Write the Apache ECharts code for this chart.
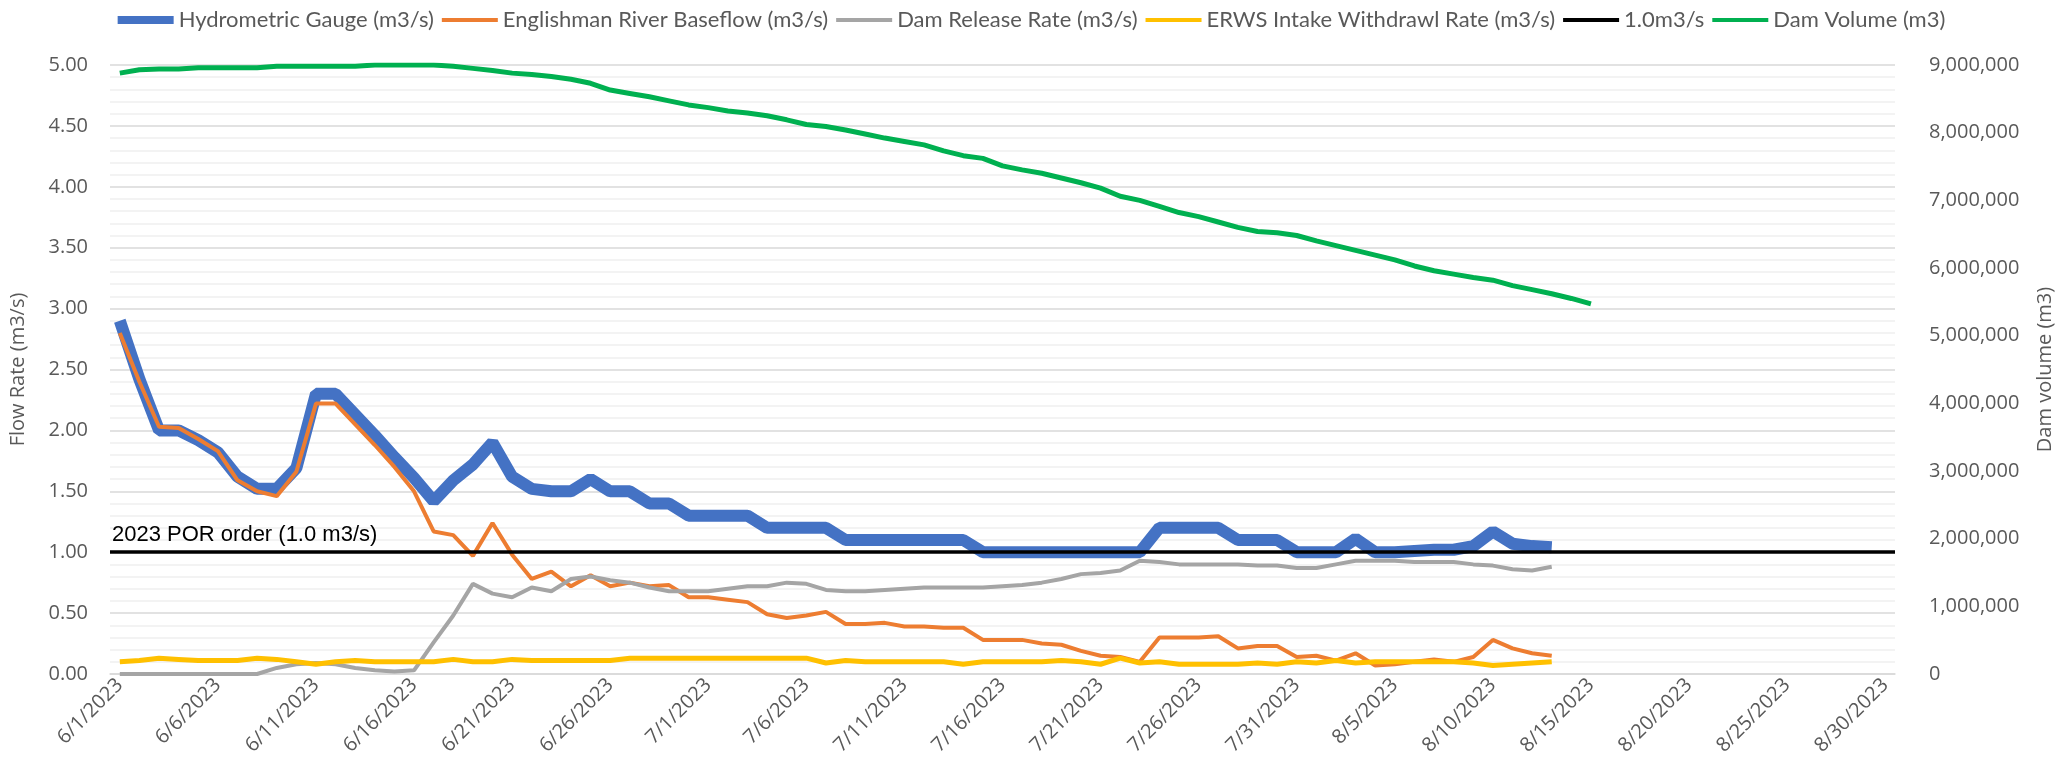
<!DOCTYPE html>
<html><head><meta charset="utf-8">
<script src="https://cdn.jsdelivr.net/npm/echarts@6/dist/echarts.min.js"></script>
<style>html,body{margin:0;padding:0;background:#fff}#c{width:2063px;height:778px}</style>
</head><body><div id="c"></div>
<script>
// categories: daily dates 6/1/2023 .. 8/30/2023
const monthSpans = [[6, 30], [7, 31], [8, 30]];
const dates = [];
for (const [m, n] of monthSpans) for (let d = 1; d <= n; d++) dates.push(m + '/' + d + '/2023');

// Hydrometric Gauge (m3/s), 6/1 .. 8/13
const gauge = [2.90, 2.42, 2.00, 2.00, 1.92, 1.82, 1.62, 1.52, 1.52, 1.69,
  2.30, 2.30, 2.13, 1.96, 1.78, 1.61, 1.42, 1.59, 1.72, 1.90,
  1.62, 1.52, 1.50, 1.50, 1.60, 1.50, 1.50, 1.40, 1.40, 1.30,
  1.30, 1.30, 1.30, 1.20, 1.20, 1.20, 1.20, 1.10, 1.10, 1.10,
  1.10, 1.10, 1.10, 1.10, 1.00, 1.00, 1.00, 1.00, 1.00, 1.00,
  1.00, 1.00, 1.00, 1.20, 1.20, 1.20, 1.20, 1.10, 1.10, 1.10,
  1.00, 1.00, 1.00, 1.11, 1.00, 1.00, 1.01, 1.02, 1.02, 1.05,
  1.17, 1.07, 1.05, 1.04];
// Englishman River Baseflow (m3/s)
const baseflow = [2.80, 2.40, 2.03, 2.02, 1.93, 1.83, 1.59, 1.50, 1.46, 1.66,
  2.22, 2.22, 2.05, 1.88, 1.70, 1.50, 1.17, 1.14, 0.97, 1.24,
  0.98, 0.78, 0.84, 0.72, 0.81, 0.72, 0.75, 0.72, 0.73, 0.63,
  0.63, 0.61, 0.59, 0.49, 0.46, 0.48, 0.51, 0.41, 0.41, 0.42,
  0.39, 0.39, 0.38, 0.38, 0.28, 0.28, 0.28, 0.25, 0.24, 0.19,
  0.15, 0.14, 0.10, 0.30, 0.30, 0.30, 0.31, 0.21, 0.23, 0.23,
  0.14, 0.15, 0.11, 0.17, 0.07, 0.08, 0.10, 0.12, 0.10, 0.14,
  0.28, 0.21, 0.17, 0.15];
// Dam Release Rate (m3/s)
const release = [0.00, 0.00, 0.00, 0.00, 0.00, 0.00, 0.00, 0.00, 0.05, 0.08,
  0.09, 0.08, 0.05, 0.03, 0.02, 0.03, 0.26, 0.48, 0.74, 0.66,
  0.63, 0.71, 0.68, 0.78, 0.80, 0.77, 0.75, 0.71, 0.68, 0.68,
  0.68, 0.70, 0.72, 0.72, 0.75, 0.74, 0.69, 0.68, 0.68, 0.69,
  0.70, 0.71, 0.71, 0.71, 0.71, 0.72, 0.73, 0.75, 0.78, 0.82,
  0.83, 0.85, 0.93, 0.92, 0.90, 0.90, 0.90, 0.90, 0.89, 0.89,
  0.87, 0.87, 0.90, 0.93, 0.93, 0.93, 0.92, 0.92, 0.92, 0.90,
  0.89, 0.86, 0.85, 0.88];
// ERWS Intake Withdrawl Rate (m3/s)
const intake = [0.10, 0.11, 0.13, 0.12, 0.11, 0.11, 0.11, 0.13, 0.12, 0.10,
  0.08, 0.10, 0.11, 0.10, 0.10, 0.10, 0.10, 0.12, 0.10, 0.10,
  0.12, 0.11, 0.11, 0.11, 0.11, 0.11, 0.13, 0.13, 0.13, 0.13,
  0.13, 0.13, 0.13, 0.13, 0.13, 0.13, 0.09, 0.11, 0.10, 0.10,
  0.10, 0.10, 0.10, 0.08, 0.10, 0.10, 0.10, 0.10, 0.11, 0.10,
  0.08, 0.13, 0.09, 0.10, 0.08, 0.08, 0.08, 0.08, 0.09, 0.08,
  0.10, 0.09, 0.11, 0.09, 0.10, 0.10, 0.10, 0.10, 0.10, 0.09,
  0.07, 0.08, 0.09, 0.10];
// Dam Volume (m3), 6/1 .. 8/15
const volume = [8880000, 8930000, 8940000, 8940000, 8960000, 8960000, 8960000, 8960000, 8980000, 8980000,
  8980000, 8980000, 8980000, 9000000, 9000000, 9000000, 9000000, 8980000, 8950000, 8920000,
  8880000, 8860000, 8830000, 8790000, 8730000, 8630000, 8580000, 8530000, 8470000, 8410000,
  8370000, 8320000, 8290000, 8250000, 8190000, 8120000, 8090000, 8040000, 7980000, 7920000,
  7870000, 7820000, 7730000, 7660000, 7620000, 7510000, 7450000, 7400000, 7330000, 7260000,
  7180000, 7060000, 7000000, 6910000, 6820000, 6760000, 6680000, 6600000, 6540000, 6520000,
  6480000, 6400000, 6330000, 6260000, 6190000, 6120000, 6030000, 5960000, 5910000, 5860000,
  5820000, 5740000, 5680000, 5620000, 5550000, 5470000];
const porLevel = 1.0;
const porLabel = '2023 POR order (1.0 m3/s)';

const txt = '#595959';
const thickIcon = 'path://M0,0L56,0L56,8L0,8Z';
const thinIcon = 'path://M0,0L56,0L56,4L0,4Z';
const chart = echarts.init(document.getElementById('c'));
chart.setOption({
  animation: false,
  textStyle: { fontFamily: 'Open Sans' },
  legend: {
    top: 4, left: 'center', itemGap: 8, itemWidth: 56, itemHeight: 14,
    textStyle: { fontSize: 22, color: txt, fontFamily: 'Lato' },
    data: [
      { name: 'Hydrometric Gauge (m3/s)', icon: thickIcon },
      { name: 'Englishman River Baseflow (m3/s)', icon: thinIcon },
      { name: 'Dam Release Rate (m3/s)', icon: thinIcon },
      { name: 'ERWS Intake Withdrawl Rate (m3/s)', icon: thinIcon },
      { name: '1.0m3/s', icon: thinIcon },
      { name: 'Dam Volume (m3)', icon: thinIcon }
    ]
  },
  grid: { left: 108, right: 165, top: 65, bottom: 104 },
  xAxis: {
    type: 'category', data: dates, boundaryGap: true,
    axisLine: { lineStyle: { color: '#D9D9D9', width: 1.5 } },
    axisTick: { show: false },
    axisLabel: { interval: 4, rotate: 45, color: txt, fontSize: 20, margin: 8 }
  },
  yAxis: [{
    type: 'value', min: 0, max: 5, interval: 0.5,
    name: 'Flow Rate (m3/s)', nameLocation: 'middle', nameGap: 82, nameRotate: 90,
    nameTextStyle: { color: txt, fontSize: 20 },
    axisLine: { show: false }, axisTick: { show: false },
    axisLabel: { formatter: v => v.toFixed(2), color: txt, fontSize: 20, margin: 22 },
    splitLine: { lineStyle: { color: '#D9D9D9', width: 1.5 } },
    minorTick: { show: false, splitNumber: 5 },
    minorSplitLine: { show: true, lineStyle: { color: '#F0F0F0', width: 1.5 } }
  }, {
    type: 'value', min: 0, max: 9000000, interval: 1000000, position: 'right',
    name: 'Dam volume (m3)', nameLocation: 'middle', nameGap: 140, nameRotate: 90,
    nameTextStyle: { color: txt, fontSize: 20 },
    axisLine: { show: false }, axisTick: { show: false },
    axisLabel: { formatter: v => v.toLocaleString('en-US'), color: txt, fontSize: 20, margin: 34 },
    splitLine: { show: false }
  }],
  series: [
    { name: 'Hydrometric Gauge (m3/s)', type: 'line', data: gauge, symbol: 'none',
      itemStyle: { color: '#4472C4' }, lineStyle: { color: '#4472C4', width: 12 } },
    { name: 'Englishman River Baseflow (m3/s)', type: 'line', data: baseflow, symbol: 'none',
      itemStyle: { color: '#ED7D31' }, lineStyle: { color: '#ED7D31', width: 4 } },
    { name: 'Dam Release Rate (m3/s)', type: 'line', data: release, symbol: 'none',
      itemStyle: { color: '#A5A5A5' }, lineStyle: { color: '#A5A5A5', width: 4 } },
    { name: 'ERWS Intake Withdrawl Rate (m3/s)', type: 'line', data: intake, symbol: 'none',
      itemStyle: { color: '#FFC000' }, lineStyle: { color: '#FFC000', width: 5 } },
    { name: '1.0m3/s', type: 'line', data: [], symbol: 'none',
      itemStyle: { color: '#000' }, lineStyle: { color: '#000', width: 3.5 },
      markLine: { silent: true, symbol: 'none',
        lineStyle: { color: '#000', width: 3.5, type: 'solid' },
        label: { show: true, position: 'insideStartTop', formatter: porLabel, color: '#000',
          fontSize: 22, fontFamily: 'Liberation Sans', distance: [2, 6] },
        data: [{ yAxis: porLevel }] } },
    { name: 'Dam Volume (m3)', type: 'line', yAxisIndex: 1, data: volume, symbol: 'none',
      itemStyle: { color: '#00B050' }, lineStyle: { color: '#00B050', width: 5 } }
  ]
});
</script></body></html>
